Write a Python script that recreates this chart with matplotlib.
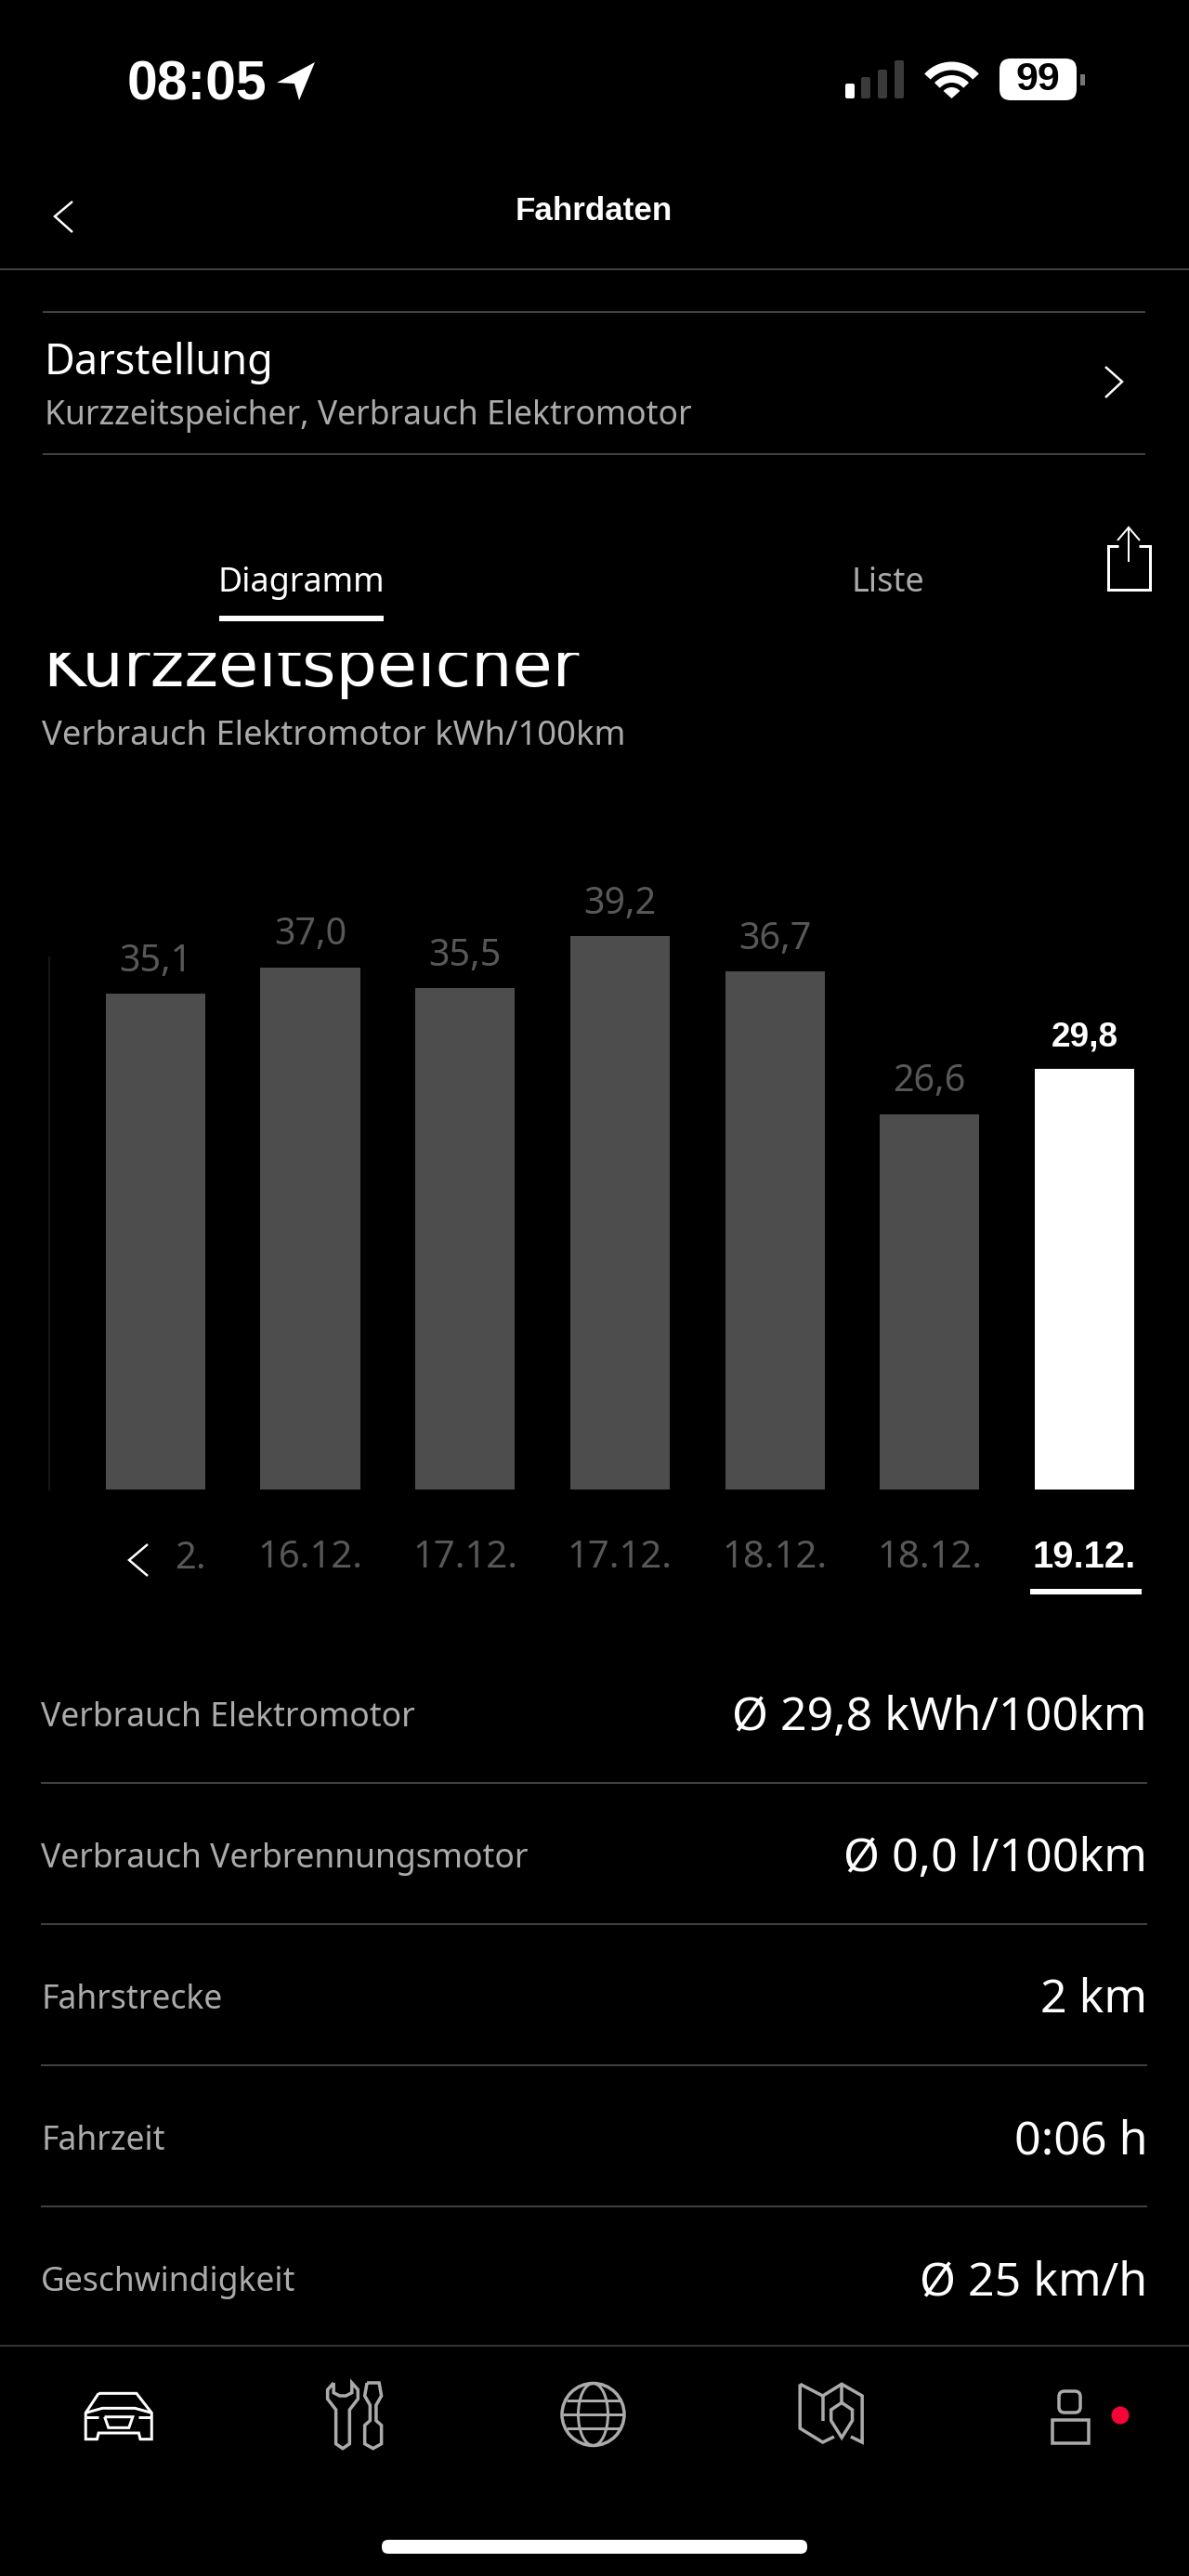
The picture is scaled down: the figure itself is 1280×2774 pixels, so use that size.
#!/usr/bin/env python3
"""Recreate the Fahrdaten app screen with its consumption bar chart."""

import matplotlib

matplotlib.use("Agg")
import matplotlib.pyplot as plt
from matplotlib.patches import Circle, Ellipse, FancyBboxPatch, Polygon, Rectangle, Wedge, Arc

plt.rcParams["font.family"] = ["Noto Sans", "DejaVu Sans"]

W, H = 1280, 2774
BAR_GREY = "#4d4d4d"
LABEL_GREY = "#585858"
TEXT_GREY = "#ababab"
LINE_GREY = "#404040"
BOLD_FONT = "Liberation Sans"

# chart data
dates = ["16.12.", "17.12.", "17.12.", "18.12.", "18.12.", "19.12."]
values = [35.1, 37.0, 35.5, 39.2, 36.7, 26.6, 29.8]
value_labels = ["35,1", "37,0", "35,5", "39,2", "36,7", "26,6", "29,8"]

# table under the chart
row_names = [
    "Verbrauch Elektromotor",
    "Verbrauch Verbrennungsmotor",
    "Fahrstrecke",
    "Fahrzeit",
    "Geschwindigkeit",
]
row_values = ["Ø 29,8 kWh/100km", "Ø 0,0 l/100km", "2 km", "0:06 h", "Ø 25 km/h"]


def fs(px):
    # font size in points for a size in pixels at dpi 100
    return px * 0.72


def lw(px):
    return px * 0.72


def line(ax, xs, ys, color="white", width=2.5, **kw):
    ax.plot(xs, ys, color=color, lw=lw(width), solid_capstyle="butt", solid_joinstyle="miter", **kw)


def zoomed(points):
    # bottom bar icons were measured on a crop that starts at y=2480
    return [p[0] / 1.225 for p in points], [2480 + p[1] / 3 for p in points]


def icon_line(ax, points, color=TEXT_GREY, width=3.5):
    xs, ys = zoomed(points)
    line(ax, xs, ys, color=color, width=width)


fig = plt.figure(figsize=(W / 100, H / 100), dpi=100, facecolor="black")
base = fig.add_axes([0, 0, 1, 1])
base.set_xlim(0, W)
base.set_ylim(H, 0)
base.axis("off")

# status bar
base.text(137, 107, "08:05", color="white", fontfamily=BOLD_FONT, fontsize=fs(59), fontweight="bold", va="baseline")
base.add_patch(Polygon([(298, 89), (339, 67), (322, 108), (317, 90)], fc="white", ec="none"))
for x0, top, col in [(910, 90, "white"), (927, 83, "#3a3a3a"), (945, 75, "#3a3a3a"), (963, 65, "#3a3a3a")]:
    base.add_patch(FancyBboxPatch((x0 + 2, top + 2), 6, 106 - top - 4, boxstyle="round,pad=2",
                                  fc=col, ec="none"))
for r, wd in [(35, 9), (21, 8)]:
    base.add_patch(Arc((1024.5, 106), 2 * r, 2 * r, theta1=222, theta2=318, color="white", lw=lw(wd)))
base.add_patch(Wedge((1024.5, 106), 12, 222, 318, fc="white", ec="none"))
base.add_patch(FancyBboxPatch((1088, 75), 59, 21, boxstyle="round,pad=12", fc="white", ec="none"))
base.add_patch(Rectangle((1163, 80), 5, 12, fc="#777777", ec="none"))
base.text(1117.5, 86, "99", color="black", fontfamily=BOLD_FONT, fontsize=fs(43), fontweight="bold",
          ha="center", va="center")

# header
line(base, [78, 59, 78], [217, 233, 250], width=2.5)
base.text(639, 237, "Fahrdaten", color="white", fontfamily=BOLD_FONT, fontsize=fs(35), fontweight="bold",
          ha="center", va="baseline")
line(base, [0, W], [290, 290], color=LINE_GREY, width=2)

# Darstellung row
line(base, [46, 1233], [336, 336], color=LINE_GREY, width=2)
base.text(48, 403, "Darstellung", color="white", fontsize=fs(45), va="baseline")
base.text(48, 457, "Kurzzeitspeicher, Verbrauch Elektromotor", color=TEXT_GREY, fontsize=fs(35.5), va="baseline")
line(base, [1190, 1208, 1190], [395, 411, 428], width=2.5)
line(base, [46, 1233], [489, 489], color=LINE_GREY, width=2)

# tabs
base.text(324, 637, "Diagramm", color="white", fontsize=fs(36), ha="center", va="baseline")
base.add_patch(Rectangle((236, 663), 177, 6, fc="white", ec="none"))
base.text(956, 637, "Liste", color=TEXT_GREY, fontsize=fs(36), ha="center", va="baseline")

# share icon
line(base, [1204, 1192.5, 1192.5, 1237.5, 1237.5, 1226], [588, 588, 635, 635, 588, 588], width=3)
line(base, [1215, 1215], [567, 605], width=2)
line(base, [1203, 1215, 1227], [582, 568, 582], width=2)

# heading is cut off by the scrolled tab bar
title = base.text(46, 739, "Kurzzeitspeicher", color="white", fontfamily="DejaVu Sans", fontsize=fs(70), va="baseline")
title.set_clip_path(Rectangle((0, 703), W, 80, transform=base.transData))
title.set_clip_on(True)
base.text(45, 802, "Verbrauch Elektromotor kWh/100km", color=TEXT_GREY, fontsize=fs(36.4), va="baseline")

# bar chart, scale measured from the bars: 166.7 px per bar and 15.2 px per kWh
left, right, top, bottom = 53, 1240, 900, 1604
chart = fig.add_axes([left / W, 1 - bottom / H, (right - left) / W, (bottom - top) / H], facecolor="none")
chart.set_xlim((left - 167.3) / 166.7, (right - 167.3) / 166.7)
chart.set_ylim(0, (bottom - top) / 15.2)
bar_colors = [BAR_GREY] * (len(values) - 1) + ["white"]
positions = list(range(len(values)))
chart.bar(positions, values, width=0.642, color=bar_colors, linewidth=0)
for i, (v, text) in enumerate(zip(values, value_labels)):
    last = i == len(values) - 1
    chart.annotate(text, (i, v), xytext=(0, 17.5), textcoords="offset points", ha="center", va="baseline",
                   color="white" if last else LABEL_GREY, fontsize=fs(39.5) if not last else fs(37),
                   fontfamily=BOLD_FONT if last else "Noto Sans",
                   fontweight="bold" if last else "normal")

chart.set_xticks(positions[1:])
chart.set_xticklabels(dates, fontsize=fs(40), color=LABEL_GREY)
last_tick = chart.get_xticklabels()[-1]
last_tick.set_color("white")
last_tick.set_fontfamily(BOLD_FONT)
last_tick.set_fontweight("bold")
chart.tick_params(axis="x", length=0, pad=39)
chart.set_yticks([])
for side in ["top", "right", "bottom"]:
    chart.spines[side].set_visible(False)
chart.spines["left"].set_color("#161616")
chart.spines["left"].set_linewidth(lw(2))
chart.spines["left"].set_bounds(0, 37.7)
# first date is scrolled away behind the arrow, only its end still shows
chart.annotate("2.", (0, 0), xytext=(27, -61), textcoords="offset points", ha="center", va="baseline",
               color=LABEL_GREY, fontsize=fs(40), annotation_clip=False)

line(base, [159, 139, 159], [1663, 1680, 1697], width=2.5)
base.add_patch(Rectangle((1108.5, 1711), 120, 6, fc="white", ec="none"))

# table
row_y = [1850, 2002, 2154, 2306, 2458]
for y, name, val in zip(row_y, row_names, row_values):
    base.text(44, y, name, color=TEXT_GREY, fontsize=fs(35.5), va="center")
    base.text(1235, y, val, color="white", fontsize=fs(50), ha="right", va="center")
for y in [1920, 2072, 2224, 2376]:
    line(base, [44, 1235], [y, y], color=LINE_GREY, width=2)
line(base, [0, W], [2526, 2526], color="#333333", width=2)

# bottom navigation: car
icon_line(base, [(130, 292), (180, 292), (200, 355), (200, 440), (185, 440), (183, 420), (130, 420), (128, 440), (113, 440), (113, 355), (130, 292)], color="white", width=3)
icon_line(base, [(113, 355), (135, 340), (178, 340), (200, 355)], color="white", width=3)
icon_line(base, [(113, 368), (130, 368)], color="white", width=3)
icon_line(base, [(183, 368), (200, 368)], color="white", width=3)
icon_line(base, [(138, 368), (175, 368), (170, 403), (143, 403), (138, 368)], color="white", width=3)

# wrench and screwdriver
icon_line(base, [(440, 258), (432, 280), (432, 310), (443, 345), (443, 455), (452, 470), (461, 455), (461, 345), (472, 310), (472, 280), (464, 258), (464, 290), (456, 300), (448, 300), (440, 290), (440, 258)])
icon_line(base, [(484, 258), (500, 258), (503, 300), (496, 330), (496, 380), (503, 395), (503, 455), (492, 470), (481, 455), (481, 395), (488, 380), (488, 330), (481, 300), (484, 258)])

# globe
base.add_patch(Circle((638.5, 2600), 33.5, fc="none", ec=TEXT_GREY, lw=lw(3.5)))
base.add_patch(Ellipse((638.5, 2600), 32, 67, fc="none", ec=TEXT_GREY, lw=lw(3)))
for y, half in [(2585, 29), (2600, 33), (2615, 29)]:
    line(base, [638.5 - half, 638.5 + half], [y, y], width=3, color=TEXT_GREY)

# map with pin
icon_line(base, [(1055, 262), (1085, 300), (1110, 262), (1137, 300), (1137, 450), (1122, 432)])
icon_line(base, [(1055, 262), (1055, 405), (1085, 450), (1100, 432)])
icon_line(base, [(1085, 300), (1085, 380)])
icon_line(base, [(1110, 262), (1110, 320)])
icon_line(base, [(1110, 322), (1124, 345), (1124, 380), (1110, 435), (1096, 380), (1096, 345), (1110, 322)])

# person and notification dot
base.add_patch(FancyBboxPatch((1146, 2581), 11, 11, boxstyle="round,pad=6", fc="none", ec=TEXT_GREY, lw=lw(3.5)))
base.add_patch(Rectangle((1132.5, 2606), 39, 25, fc="none", ec=TEXT_GREY, lw=lw(3.5)))
base.add_patch(Circle((1206, 2601), 9.5, fc="#f50537", ec="none"))

# home indicator
base.add_patch(FancyBboxPatch((418, 2742), 444, 1, boxstyle="round,pad=7", fc="white", ec="none"))

fig.savefig("out.png", dpi=100, facecolor="black")
